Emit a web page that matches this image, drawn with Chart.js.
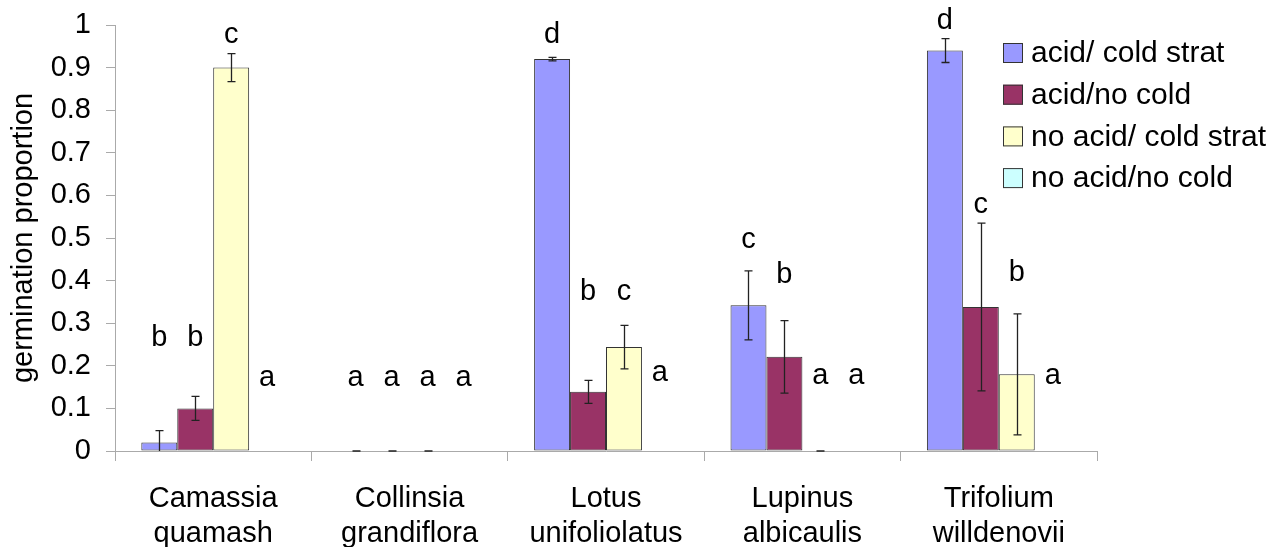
<!DOCTYPE html>
<html><head><meta charset="utf-8">
<script src="https://cdn.jsdelivr.net/npm/chart.js@4"></script>
<style>html,body{margin:0;padding:0;background:#fff;overflow:hidden;}</style>
</head><body>
<canvas id="c" width="1276" height="547" style="display:block;width:1276px;height:547px"></canvas>
<script>
// ---- data ----
const categories = [["Camassia","quamash"],["Collinsia","grandiflora"],["Lotus","unifoliolatus"],["Lupinus","albicaulis"],["Trifolium","willdenovii"]];
const seriesNames = ["acid/ cold strat","acid/no cold","no acid/ cold strat","no acid/no cold"];
const acidCold     = [0.02, 0, 0.92, 0.342, 0.94];
const acidNoCold   = [0.10, 0, 0.139, 0.221, 0.338];
const noAcidCold   = [0.90, 0, 0.244, 0, 0.18];
const noAcidNoCold = [0, 0, 0, 0, 0];
const errAcidCold     = [0.028, 0, 0.004, 0.081, 0.028];
const errAcidNoCold   = [0.028, 0, 0.027, 0.085, 0.197];
const errNoAcidCold   = [0.033, 0, 0.051, 0, 0.142];
const errNoAcidNoCold = [null, null, null, null, null];
const lettersAcidCold     = ["b","a","d","c","d"];
const lettersAcidNoCold   = ["b","a","b","b","c"];
const lettersNoAcidCold   = ["c","a","c","a","b"];
const lettersNoAcidNoCold = ["a","a","a","a","a"];
const letterLevelAcidCold     = [0.265, 0.171, 0.976, 0.495, 1.01];
const letterLevelAcidNoCold   = [0.265, 0.171, 0.373, 0.413, 0.577];
const letterLevelNoAcidCold   = [0.976, 0.171, 0.373, 0.175, 0.419];
const letterLevelNoAcidNoCold = [0.171, 0.171, 0.183, 0.175, 0.175];
const yTickStep = 0.1;

const FONT = '"Liberation Sans", Arial, sans-serif';
Chart.defaults.font.family = FONT;
Chart.defaults.color = '#000';

const colors = ['#9999FF','#993366','#FFFFCC','#CCFFFF'];
const values = [acidCold, acidNoCold, noAcidCold, noAcidNoCold];
const errors = [errAcidCold, errAcidNoCold, errNoAcidCold, errNoAcidNoCold];
const letters = [lettersAcidCold, lettersAcidNoCold, lettersNoAcidCold, lettersNoAcidNoCold];
const letterLevels = [letterLevelAcidCold, letterLevelAcidNoCold, letterLevelNoAcidCold, letterLevelNoAcidNoCold];

const errorBarPlugin = {
  id: 'errbars',
  afterDatasetsDraw(chart) {
    const ctx = chart.ctx, ys = chart.scales.y;
    ctx.save();
    ctx.strokeStyle = '#222';
    ctx.lineWidth = 1.3;
    chart.data.datasets.forEach((ds, i) => {
      const meta = chart.getDatasetMeta(i);
      meta.data.forEach((bar, j) => {
        const e = errors[i][j];
        if (e === null || e === undefined) return;
        const v = ds.data[j];
        const x = Math.round(bar.x) + 0.5;
        const yT = ys.getPixelForValue(v + e);
        const low = v - e;
        const yB = ys.getPixelForValue(Math.max(low, ys.min));
        ctx.beginPath();
        ctx.moveTo(x, yT); ctx.lineTo(x, yB);
        ctx.moveTo(x - 4, yT); ctx.lineTo(x + 4, yT);
        if (low >= ys.min) { ctx.moveTo(x - 4, yB); ctx.lineTo(x + 4, yB); }
        ctx.stroke();
      });
    });
    ctx.restore();
  }
};

const letterPlugin = {
  id: 'letters',
  afterDatasetsDraw(chart) {
    const ctx = chart.ctx, ys = chart.scales.y;
    ctx.save();
    ctx.fillStyle = '#000';
    ctx.font = '29px ' + FONT;
    ctx.textAlign = 'center';
    ctx.textBaseline = 'middle';
    chart.data.datasets.forEach((ds, i) => {
      const meta = chart.getDatasetMeta(i);
      meta.data.forEach((bar, j) => {
        ctx.fillText(letters[i][j], bar.x, ys.getPixelForValue(letterLevels[i][j]));
      });
    });
    ctx.restore();
  }
};

const legendPlugin = {
  id: 'customLegend',
  afterDraw(chart) {
    const ctx = chart.ctx;
    ctx.save();
    ctx.font = '30px ' + FONT;
    ctx.textBaseline = 'middle';
    ctx.textAlign = 'left';
    chart.data.datasets.forEach((ds, i) => {
      const cy = 53 + i * 41.7;
      ctx.fillStyle = ds.backgroundColor;
      ctx.fillRect(1003, cy - 10, 20, 20);
      ctx.strokeStyle = '#333';
      ctx.lineWidth = 1;
      ctx.strokeRect(1003.5, cy - 9.5, 19, 19);
      ctx.fillStyle = '#000';
      ctx.fillText(ds.label, 1031, cy + 1);
    });
    ctx.restore();
  }
};

new Chart(document.getElementById('c'), {
  type: 'bar',
  data: {
    labels: categories,
    datasets: seriesNames.map((n, i) => ({
      label: n,
      data: values[i],
      backgroundColor: colors[i],
      borderColor: '#333',
      borderWidth: 1,
      borderSkipped: false,
      categoryPercentage: 0.732,
      barPercentage: 1
    }))
  },
  options: {
    responsive: false,
    animation: false,
    devicePixelRatio: 1,
    layout: { padding: { left: 0, right: 179, top: 25, bottom: 0 } },
    plugins: { legend: { display: false }, tooltip: { enabled: false } },
    scales: {
      x: {
        grid: { drawOnChartArea: false, color: '#aaa', tickLength: 10, offset: true },
        border: { color: '#aaa' },
        ticks: { font: { size: 29, lineHeight: 1.2 }, color: '#000', padding: 21, maxRotation: 0, autoSkip: false },
        afterFit(s) { s.height = 96; }
      },
      y: {
        min: 0, max: 1,
        ticks: { stepSize: yTickStep, font: { size: 29, lineHeight: 0.5 }, color: '#000', padding: 15,
                 callback: (v) => String(Number(v.toFixed(1))) },
        grid: { drawOnChartArea: false, color: '#aaa', tickLength: 9 },
        border: { color: '#aaa' },
        title: { display: true, text: 'germination proportion', font: { size: 29 }, color: '#000', padding: { top: 7, bottom: 0 } },
        afterFit(s) { s.width = 115; }
      }
    }
  },
  plugins: [errorBarPlugin, letterPlugin, legendPlugin]
});
</script>
</body></html>
